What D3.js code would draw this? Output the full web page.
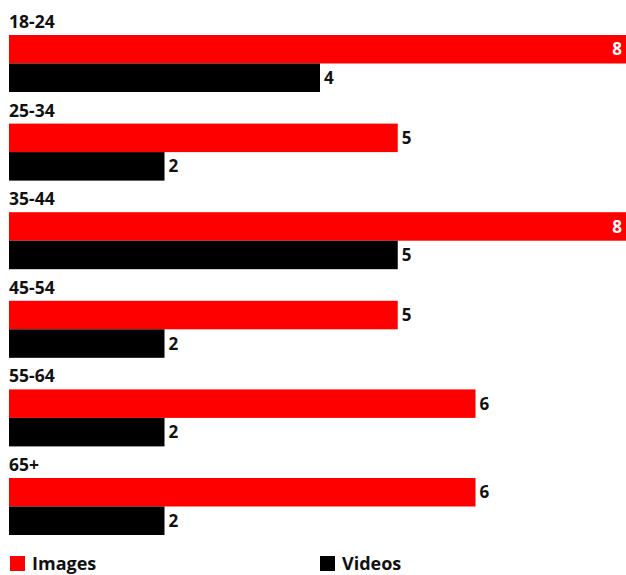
<!DOCTYPE html>
<html>
<head>
<meta charset="utf-8">
<script src="https://cdn.jsdelivr.net/npm/d3@7"></script>
<style>
  html, body { margin: 0; padding: 0; background: #fff; }
  svg { display: block; font-family: "Open Sans", sans-serif; font-weight: 700; }
</style>
</head>
<body>
<svg width="626" height="575"></svg>
<script>
const svg = d3.select("svg"),
    width = +svg.attr("width"),
    height = +svg.attr("height");

// data
const groups = ["18-24", "25-34", "35-44", "45-54", "55-64", "65+"];
const series = ["Images", "Videos"];
const images = [8, 5, 8, 5, 6, 6];
const videos = [4, 2, 5, 2, 2, 2];
const colors = ["#ff0000", "#000000"];

const rows = groups.map(function(g, i) {
  return { group: g, values: [images[i], videos[i]] };
});

// scales
const x = d3.scaleLinear().domain([0, 8]).range([9, 631]);

const y = d3.scaleBand()
    .domain(groups)
    .range([35, 35 + 6 * 88.6]);

const ySub = d3.scaleBand()
    .domain(series)
    .range([0, 57]);

const color = d3.scaleOrdinal().domain(series).range(colors);

// one group per age bracket
const group = svg.selectAll(".group")
    .data(rows)
    .enter().append("g")
    .attr("class", "group")
    .attr("transform", function(d) { return "translate(0," + y(d.group) + ")"; });

group.append("text")
    .attr("x", 9)
    .attr("y", -7)
    .style("font-size", "17.5px")
    .style("fill", "#111")
    .text(function(d) { return d.group; });

const bar = group.selectAll(".bar")
    .data(function(d) {
      return d.values.map(function(v, j) { return { key: series[j], value: v }; });
    })
    .enter().append("g")
    .attr("class", "bar");

bar.append("rect")
    .attr("x", x(0))
    .attr("y", function(d) { return ySub(d.key); })
    .attr("width", function(d) { return x(d.value) - x(0); })
    .attr("height", ySub.bandwidth())
    .style("fill", function(d) { return color(d.key); });

// value labels: inside (white) when the bar runs off the edge
bar.append("text")
    .attr("x", function(d) { return x(d.value) > width - 20 ? width - 4 : x(d.value) + 4; })
    .attr("y", function(d) { return ySub(d.key) + ySub.bandwidth() / 2; })
    .attr("dy", "0.36em")
    .attr("text-anchor", function(d) { return x(d.value) > width - 20 ? "end" : "start"; })
    .style("font-size", "17px")
    .style("fill", function(d) { return x(d.value) > width - 20 ? "#fff" : "#111"; })
    .text(function(d) { return d.value; });

// legend
const legend = svg.selectAll(".legend")
    .data(series)
    .enter().append("g")
    .attr("class", "legend")
    .attr("transform", function(d, i) { return "translate(" + (10 + i * 310) + ",556)"; });

legend.append("rect")
    .attr("width", 15)
    .attr("height", 15)
    .style("fill", function(d) { return color(d); });

legend.append("text")
    .attr("x", 22)
    .attr("y", 13.5)
    .style("font-size", "18px")
    .style("fill", "#111")
    .text(function(d) { return d; });
</script>
</body>
</html>
